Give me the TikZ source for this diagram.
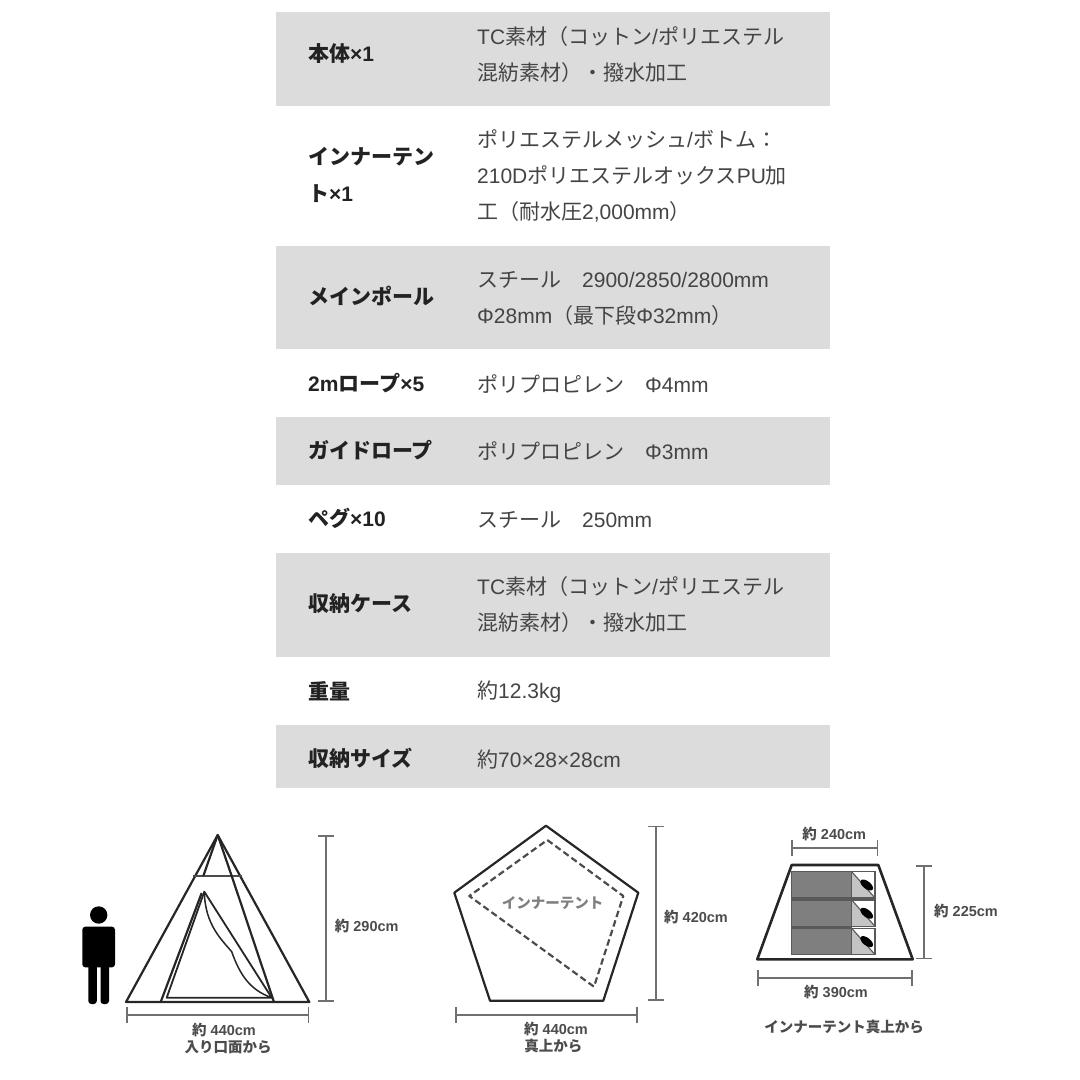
\documentclass[tikz,border=0pt]{standalone}
\usepackage{fontspec}
\setmainfont{Liberation Sans}
\newfontfamily\cjk{Noto Sans CJK JP}
\usetikzlibrary{arrows.meta}
\newcommand{\jp}[1]{{\cjk #1}}
\definecolor{rowgray}{HTML}{DCDCDC}
\definecolor{valtext}{HTML}{444444}
\definecolor{keytext}{HTML}{222222}
\definecolor{dimgray}{HTML}{707070}
\definecolor{roomgray}{HTML}{7F7F7F}
\definecolor{doorgray}{HTML}{C4C4C4}
\tikzset{
  key/.style={anchor=west,inner sep=0pt,align=left,text=keytext,font=\fontsize{21}{37}\selectfont\bfseries},
  val/.style={anchor=west,inner sep=0pt,align=left,text=valtext,font=\fontsize{21}{36}\selectfont},
  dimline/.style={draw=dimgray,line width=2pt,{Bar[width=16pt,line width=1.6pt]}-{Bar[width=16pt,line width=1.6pt]}},
  dimtext/.style={inner sep=0pt,text=black!70,font=\fontsize{14.5}{16}\selectfont\bfseries},
  tentline/.style={line width=2.2pt,draw=black!85,line join=round},
}
\begin{document}
\begin{tikzpicture}[x=1pt,y=-1pt]
	\useasboundingbox (0,0) rectangle (1080,1080);
	% table rows
	\foreach \a/\b in {12/106,246/349,417/485,553/657,725/788}{\fill[rowgray] (276,\a) rectangle (830,\b);}

	\node[key] (kbody) at (308,54) {\jp{本体}×1};
	\node[key] (kinner) at (308,174.5) {\jp{インナーテン}\\\jp{ト}×1};
	\node[key] (kpole) at (308,296) {\jp{メインポール}};
	\node[key] (krope) at (308,383) {2m\jp{ロープ}×5};
	\node[key] (kguide) at (308,450) {\jp{ガイドロープ}};
	\node[key] (kpeg) at (308,518) {\jp{ペグ}×10};
	\node[key] (kcase) at (308,604) {\jp{収納ケース}};
	\node[key] (kweight) at (308,691) {\jp{重量}};
	\node[key] (ksize) at (308,758) {\jp{収納サイズ}};

	\node[val] (vbody) at (477,54.5) {TC\jp{素材（コットン}/\jp{ポリエステル}\\\jp{混紡素材）・撥水加工}};
	\node[val] (vinner) at (477,176) {\jp{ポリエステルメッシュ}/\jp{ボトム：}\\210D\jp{ポリエステルオックス}PU\jp{加}\\\jp{工（耐水圧}2,000mm\jp{）}};
	\node[val] (vpole) at (477,298) {\jp{スチール　}2900/2850/2800mm\\Φ28mm\jp{（最下段}Φ32mm\jp{）}};
	\node[val] (vrope) at (477,384) {\jp{ポリプロピレン　}Φ4mm};
	\node[val] (vguide) at (477,451) {\jp{ポリプロピレン　}Φ3mm};
	\node[val] (vpeg) at (477,520) {\jp{スチール　}250mm};
	\node[val] (vcase) at (477,605) {TC\jp{素材（コットン}/\jp{ポリエステル}\\\jp{混紡素材）・撥水加工}};
	\node[val] (vweight) at (477,692) {\jp{約}12.3kg};
	\node[val] (vsize) at (477,760) {\jp{約}70×28×28cm};

	% person
	\fill[black] (98.7,915) circle (8.7);
	\fill[black,rounded corners=3pt] (82.3,926.7) rectangle (115,967.3);
	\fill[black,rounded corners=3pt] (88.3,960) rectangle (96.8,1004);
	\fill[black,rounded corners=3pt] (100.5,960) rectangle (109,1004);

	% tent from the front
	\coordinate (apex) at (217.7,835);
	\draw[tentline] (126,1002) -- (apex) -- (309.3,1002) -- cycle;
	\draw[tentline,line width=2.6pt,draw=black!70] (192.7,876) -- (242.3,876);
	\draw[tentline] (apex) -- (203.3,876);
	\draw[tentline] (apex) -- (231.7,876);
	\draw[tentline] (231.7,876) -- (274,1002);
	\draw[tentline] (201.7,893) -- (160.7,1002);
	\draw[tentline,line width=1.8pt] (204.3,891.7) -- (166.7,997.7) -- (271.7,997.7) -- cycle;
	\draw[tentline,line width=1.5pt] (204.3,891.7) .. controls (205,925) and (222,940) .. (231.7,951.7) .. controls (240,975) and (250,990) .. (271.7,997.7);
	\draw[dimline] (326,835) -- (326,1001.7);
	\draw[dimline] (126,1014.7) -- (309.3,1014.7);
	\node[dimtext] (htent) at (366.7,925.7) {\jp{約} 290cm};
	\node[dimtext] (wtent) at (224,1030) {\jp{約} 440cm};
	\node[dimtext] (ctent) at (228,1047) {\jp{入り口面から}};

	% pentagon from above
	\draw[tentline] (546,825.7) -- (638.3,892.7) -- (603.3,1000.7) -- (490,1000.7) -- (454.3,892.7) -- cycle;
	\draw[tentline,draw=black!70,dash pattern=on 6.5pt off 3.5pt] (547.3,840) -- (623.3,896) -- (594,986.7) -- (469.3,896) -- cycle;
	\node[inner sep=0pt,text=black!50,font=\fontsize{14.5}{16}\selectfont\bfseries] (inner) at (552.7,902.7) {\jp{インナーテント}};
	\draw[dimline] (656,825.7) -- (656,1000.7);
	\draw[dimline] (455,1015) -- (638,1015);
	\node[dimtext] (hpent) at (696,917.3) {\jp{約} 420cm};
	\node[dimtext] (wpent) at (556,1029.3) {\jp{約} 440cm};
	\node[dimtext] (cpent) at (553.3,1046) {\jp{真上から}};

	% inner tent from above
	\draw[tentline,line width=2.6pt] (791.7,865) -- (878.3,865) -- (912.7,959.3) -- (757.3,959.3) -- cycle;
	\fill[black!65] (791,898) rectangle (851.7,900.8);
	\fill[black!65] (791,926.4) rectangle (851.7,929.2);
	\foreach \y in {871.7,900,928.3}{
		\fill[roomgray] (791.7,\y) rectangle (851.7,\y+26.3);
		\fill[doorgray] (851.7,\y) -- (875,\y+26.3) -- (851.7,\y+26.3) -- cycle;
		\draw[black!65,line width=1.3pt] (791.7,\y) rectangle (875,\y+26.3);
		\draw[black!65,line width=1.3pt] (851.7,\y) -- (851.7,\y+26.3);
		\draw[black!65,line width=1.1pt] (851.7,\y) -- (875,\y+26.3);
		\fill[black,rotate around={-38:(866.7,\y+13.3)}] (866.7,\y+13.3) ellipse (7.5 and 3.8);
	}
	\draw[dimline] (791,848.3) -- (878.3,848.3);
	\draw[dimline] (924.3,865) -- (924.3,959.3);
	\draw[dimline] (757.3,978.3) -- (912.7,978.3);
	\node[dimtext] (wtop) at (834.3,834) {\jp{約} 240cm};
	\node[dimtext] (hinner) at (966,910.7) {\jp{約} 225cm};
	\node[dimtext] (wbot) at (836,992.3) {\jp{約} 390cm};
	\node[dimtext] (cinner) at (844,1026.7) {\jp{インナーテント真上から}};
\end{tikzpicture}
\end{document}
